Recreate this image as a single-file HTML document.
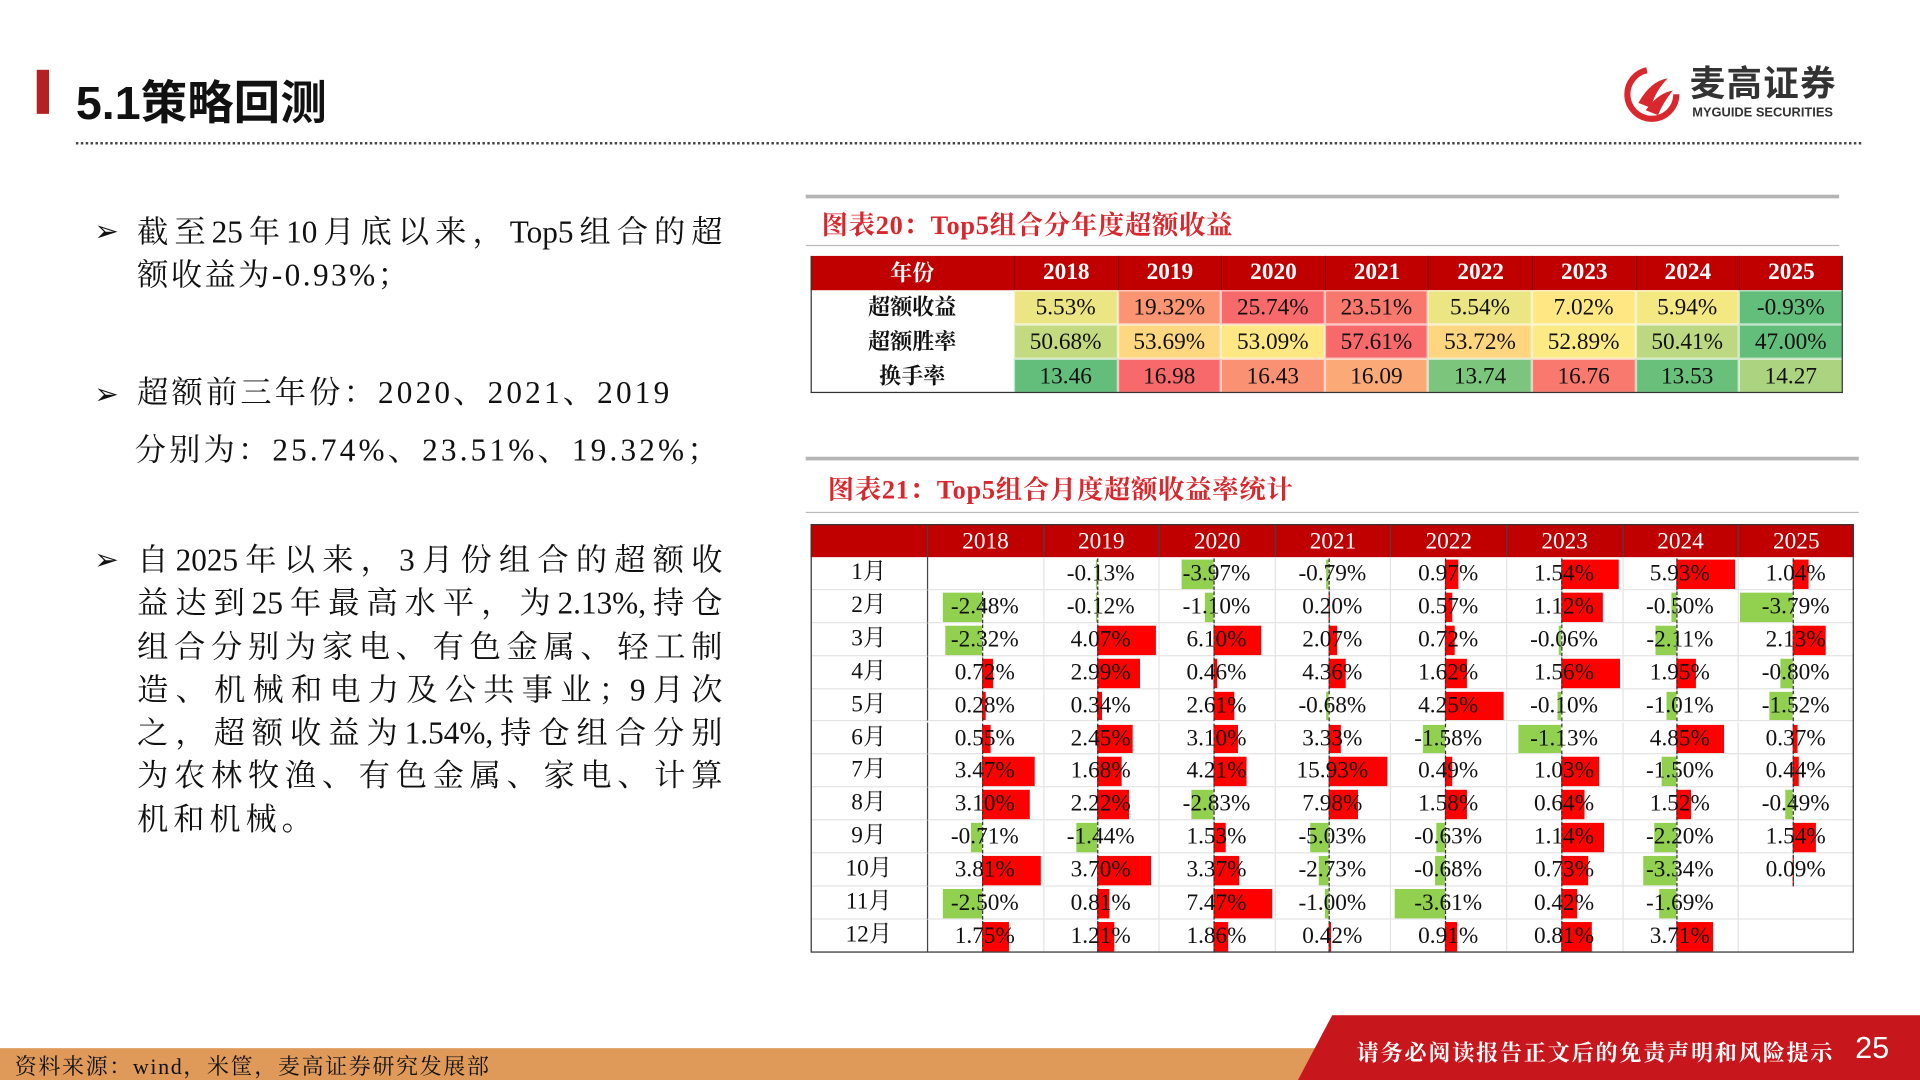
<!DOCTYPE html>
<html><head><meta charset="utf-8">
<style>
html,body{margin:0;padding:0;width:1920px;height:1080px;overflow:hidden;background:#fff}
#wrap{position:absolute;left:0;top:0;width:1568px;height:882px;transform:scale(1.22449);transform-origin:0 0;font-family:"Liberation Serif","Noto Serif CJK SC",serif}
.abs{position:absolute}
.para{position:absolute;left:77px;width:530px;font-size:25.5px;color:#111;font-family:"Liberation Serif","Noto Serif CJK SC",serif}
.para .b{position:absolute;left:0;top:0;font-family:"DejaVu Sans",sans-serif;font-size:24px}
.para .l{margin-left:35px;width:478px;white-space:nowrap}
.para .j{text-align:justify;text-align-last:justify;text-justify:inter-character}
.ct{position:absolute;color:#d9272e;font-weight:bold;font-size:21.5px;letter-spacing:0.6px;font-family:"Liberation Serif","Noto Serif CJK SC",serif}
.cell{position:absolute;box-sizing:border-box;text-align:center;font-size:19px;color:#111;white-space:nowrap}
</style></head><body>
<div id="wrap">
  <div class="abs" style="left:30px;top:57px;width:10px;height:36px;background:#b52025"></div>
  <div class="abs" style="left:62px;top:53px;font-size:38px;font-weight:bold;color:#111;font-family:'Liberation Sans','Noto Sans CJK SC',sans-serif">5.1策略回测</div>
  <div class="abs" style="left:62px;top:116px;width:1458px;border-top:2px dotted #444"></div>

  <div class="abs" style="left:1326px;top:52px;width:190px;height:48px">
    <svg width="46" height="46" viewBox="0 0 46 46" style="position:absolute;left:0;top:2px">
      <circle cx="23" cy="23" r="20" fill="none" stroke="#d9272e" stroke-width="5" stroke-dasharray="90 36"/>
      <path d="M12 30 Q22 12 36 10 Q26 20 22 34 Z" fill="#d9272e"/>
      <path d="M18 36 Q28 22 40 20 Q32 30 28 40 Z" fill="#d9272e"/>
    </svg>
    <div class="abs" style="left:54px;top:-7px;font-size:29px;font-weight:bold;color:#333;font-family:'Liberation Sans','Noto Sans CJK SC',sans-serif;letter-spacing:1px">麦高证券</div>
    <div class="abs" style="left:56px;top:34px;font-size:10.5px;font-weight:bold;color:#333;font-family:'Liberation Sans',sans-serif;white-space:nowrap">MYGUIDE SECURITIES</div>
  </div>

  <div class="para" style="top:172px;line-height:35px"><span class="b">➢</span>
    <div class="l j">截至25年10月底以来，Top5组合的超</div>
    <div class="l" style="letter-spacing:2px">额收益为-0.93%；</div></div>
  <div class="para" style="top:297px;line-height:47px"><span class="b" style="top:2px">➢</span>
    <div class="l" style="letter-spacing:2.6px">超额前三年份：2020、2021、2019</div>
    <div class="l" style="margin-left:33px;letter-spacing:2.6px">分别为：25.74%、23.51%、19.32%；</div></div>
  <div class="para" style="top:440px;line-height:35.3px"><span class="b">➢</span>
    <div class="l j">自2025年以来，3月份组合的超额收</div>
    <div class="l j">益达到25年最高水平，为2.13%,持仓</div>
    <div class="l j">组合分别为家电、有色金属、轻工制</div>
    <div class="l j">造、机械和电力及公共事业；9月次</div>
    <div class="l j">之，超额收益为1.54%,持仓组合分别</div>
    <div class="l j">为农林牧渔、有色金属、家电、计算</div>
    <div class="l" style="letter-spacing:4px">机和机械。</div></div>

  <div class="abs" style="left:658px;top:159px;width:844px;height:3px;background:#b5b5b5"></div>
  <div class="ct" style="left:671px;top:167px">图表20：Top5组合分年度超额收益</div>
  <div class="abs" style="left:658px;top:200px;width:844px;height:1px;background:#bbb"></div>
  <div id="t20" class="abs" style="left:0;top:0"></div>

  <div class="abs" style="left:658px;top:373px;width:860px;height:3px;background:#b5b5b5"></div>
  <div class="ct" style="left:676px;top:383px">图表21：Top5组合月度超额收益率统计</div>
  <div class="abs" style="left:658px;top:418px;width:860px;height:1px;background:#bbb"></div>
  <div id="t21" class="abs" style="left:0;top:0"></div>

  <div class="abs" style="left:0;top:856px;width:1568px;height:26px;background:#df9a5a"></div>
  <div class="abs" style="left:12px;top:857px;font-size:18px;letter-spacing:1.3px;color:#111">资料来源：wind，米筐，麦高证券研究发展部</div>
  <svg class="abs" style="left:1060px;top:829px" width="508" height="53"><polygon points="28,0 508,0 508,53 0,53" fill="#c8161d"/></svg>
  <div class="abs" style="left:1108px;top:846px;font-size:18px;letter-spacing:1.5px;color:#fff;font-weight:bold">请务必阅读报告正文后的免责声明和风险提示</div>
  <div class="abs" style="left:1515px;top:842px;font-size:25px;color:#fff;font-family:'Liberation Sans',sans-serif">25</div>
</div>
<script>
const years=["2018","2019","2020","2021","2022","2023","2024","2025"];
const annualLabels=["超额收益","超额胜率","换手率"];
const excessReturn=[5.53,19.32,25.74,23.51,5.54,7.02,5.94,-0.93];
const winRate=[50.68,53.69,53.09,57.61,53.72,52.89,50.41,47.00];
const turnover=[13.46,16.98,16.43,16.09,13.74,16.76,13.53,14.27];
const months=["1月","2月","3月","4月","5月","6月","7月","8月","9月","10月","11月","12月"];
const m2018=[null,-2.48,-2.32,0.72,0.28,0.55,3.47,3.10,-0.71,3.81,-2.50,1.75];
const m2019=[-0.13,-0.12,4.07,2.99,0.34,2.45,1.68,2.22,-1.44,3.70,0.81,1.21];
const m2020=[-3.97,-1.10,6.10,0.46,2.61,3.10,4.21,-2.83,1.53,3.37,7.47,1.86];
const m2021=[-0.79,0.20,2.07,4.36,-0.68,3.33,15.93,7.98,-5.03,-2.73,-1.00,0.42];
const m2022=[0.97,0.57,0.72,1.62,4.25,-1.58,0.49,1.58,-0.63,-0.68,-3.61,0.91];
const m2023=[1.54,1.12,-0.06,1.56,-0.10,-1.13,1.03,0.64,1.14,0.73,0.42,0.81];
const m2024=[5.93,-0.50,-2.11,1.95,-1.01,4.85,-1.50,1.52,-2.20,-3.34,-1.69,3.71];
const m2025=[1.04,-3.79,2.13,-0.80,-1.52,0.37,0.44,-0.49,1.54,0.09,null,null];
const monthly=[m2018,m2019,m2020,m2021,m2022,m2023,m2024,m2025];

function mk(parent,cls,css,txt){const d=document.createElement('div');d.className=cls;d.style.cssText=css;if(txt!==undefined)d.textContent=txt;parent.appendChild(d);return d;}
function mix(a,b,t){return 'rgb('+[0,1,2].map(i=>Math.round(a[i]+(b[i]-a[i])*t)).join(',')+')';}
const G=[99,190,123],Y=[255,235,132],R=[248,105,107];
function scaleColor(v,arr){const s=[...arr].sort((a,b)=>a-b);const mn=s[0],mx=s[s.length-1];const n=s.length;const md=(s[n/2-1]+s[n/2])/2;
 if(v<=md)return mix(G,Y,md===mn?1:(v-mn)/(md-mn));return mix(Y,R,(v-md)/(mx-md));}

// Table 20
const t20=document.getElementById('t20');
const X0=662,FW=166,CW=84.6,HT=209,RH=28;
let h=mk(t20,'cell',`left:${X0}px;top:${HT}px;width:${FW+CW*8}px;height:${RH}px;background:#c00000`);


let c=mk(t20,'cell',`left:${X0}px;top:${HT}px;width:${FW}px;height:${RH}px;line-height:${RH}px;color:#fff;font-weight:bold;font-size:18px`,"年份");


years.forEach((y,i)=>{const e=mk(t20,'cell',`left:${X0+FW+CW*i}px;top:${HT}px;width:${CW}px;height:${RH}px;line-height:${RH}px;color:#fff;font-weight:bold;border-left:1px solid #8a0000`,y);
 
 });
const rowsA=[excessReturn,winRate,turnover];
rowsA.forEach((arr,r)=>{const top=HT+RH+r*RH;
 const l=mk(t20,'cell',`left:${X0}px;top:${top}px;width:${FW}px;height:${RH}px;line-height:${RH}px;font-weight:bold;font-size:18px`,annualLabels[r]);
 
 
 arr.forEach((v,i)=>{const txt=r<2?v.toFixed(2)+'%':v.toFixed(2);
  const e=mk(t20,'cell',`left:${X0+FW+CW*i}px;top:${top}px;width:${CW}px;height:${RH}px;line-height:${RH}px;background:${scaleColor(v,arr)};border:0.5px solid rgba(255,255,255,0.6)`,txt);
  
  });});
let bd=mk(t20,'cell',`left:${X0}px;top:${HT}px;width:${FW+CW*8}px;height:${RH*4}px;border:1.5px solid #333;border-top:none`);



// Table 21
const t21=document.getElementById('t21');
const MX=662,MFW=95,MCW=94.6,MHT=428,MHH=27,MRH=26.9;
h=mk(t21,'cell',`left:${MX}px;top:${MHT}px;width:${MFW+MCW*8}px;height:${MHH}px;background:#c00000`);


years.forEach((y,i)=>{const e=mk(t21,'cell',`left:${MX+MFW+MCW*i}px;top:${MHT}px;width:${MCW}px;height:${MHH}px;line-height:${MHH+2}px;color:#fff;font-size:19px;border-left:1.5px solid #444`,y);
 
 });
months.forEach((m,r)=>{const top=MHT+MHH+r*MRH;
 const l=mk(t21,'cell',`left:${MX}px;top:${top}px;width:${MFW}px;height:${MRH}px;line-height:${MRH}px;border-bottom:1px solid #e4e4e4`,m);
 
 });
monthly.forEach((arr,ci)=>{
 const cx=MX+MFW+MCW*ci;const inner=MCW-4;const zero=cx+2+inner*0.47;
 const vals=arr.filter(v=>v!==null);
 const mxAbs=Math.max(...vals.map(Math.abs));const sc=(cx+MCW-2-zero)/mxAbs;
 arr.forEach((v,r)=>{const top=MHT+MHH+r*MRH;
  const cell=mk(t21,'cell',`left:${cx}px;top:${top}px;width:${MCW}px;height:${MRH}px;border-bottom:1px solid #e4e4e4;border-left:1px solid ${ci==0?'#444':'#e4e4e4'}`);
  
  
  if(v===null)return;
  let w=Math.abs(v)*sc;let left=v>=0?zero:zero-w;if(left<cx+2){left=cx+2;w=zero-left;}
  const bar=mk(t21,'cell',`left:${left}px;top:${top+2}px;width:${w}px;height:${MRH-3}px;background:${v>=0?'#ff0000':'#92d050'}`);
  
  
  const ax=mk(t21,'cell',`left:${zero}px;top:${top+1}px;width:0;height:${MRH-1}px;border-left:1px dashed #333`);
  
  
  const tx=mk(t21,'cell',`left:${cx}px;top:${top}px;width:${MCW}px;height:${MRH}px;line-height:${MRH+1}px`,v.toFixed(2)+'%');
  
  });});
bd=mk(t21,'cell',`left:${MX}px;top:${MHT}px;width:${MFW+MCW*8}px;height:${MHH+MRH*12}px;border:1.5px solid #333`);


</script>
</body></html>
